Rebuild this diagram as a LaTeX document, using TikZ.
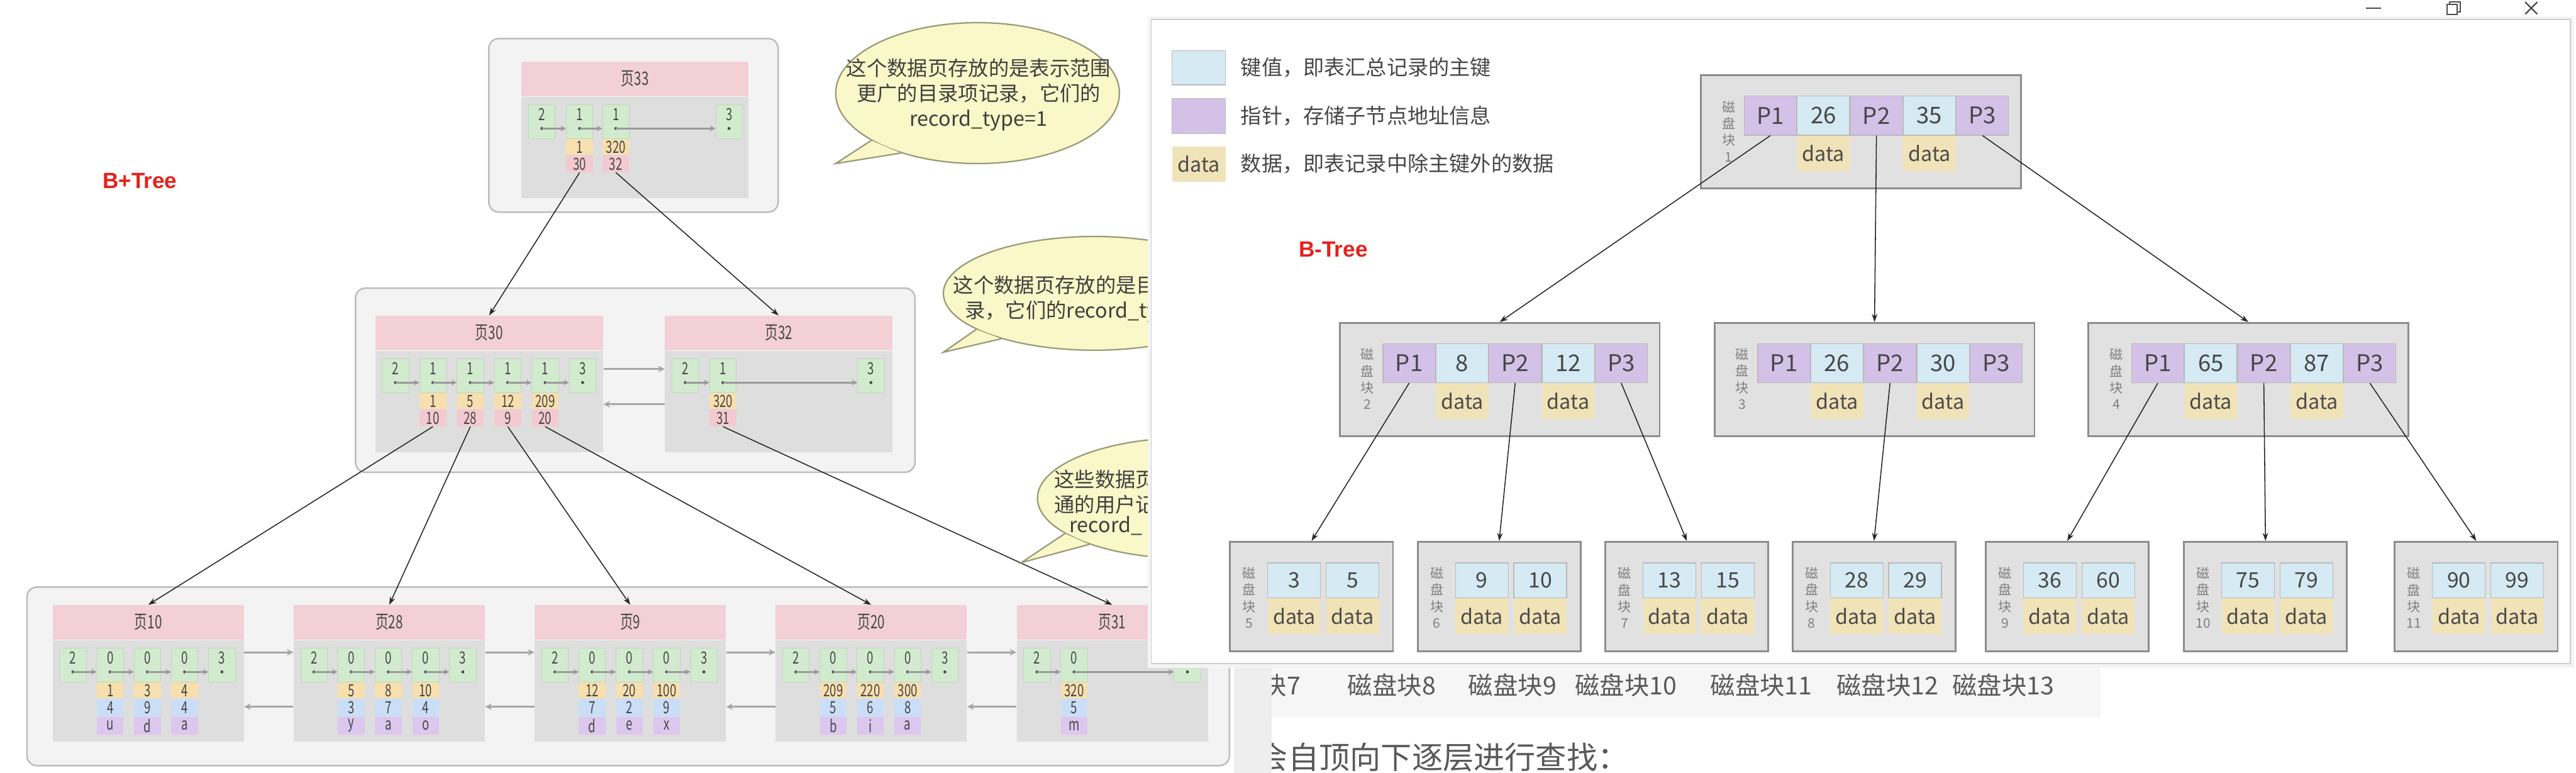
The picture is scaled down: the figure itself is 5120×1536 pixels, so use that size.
\documentclass[tikz,border=0pt]{standalone}
\usepackage{fontspec}
\setmainfont{Noto Sans CJK SC}
\newfontfamily\narrowfont{Noto Sans CJK SC}[FakeStretch=0.7]
\newfontfamily\labelfont{Liberation Sans}
\usetikzlibrary{shapes.geometric,arrows.meta,positioning,calc}
\usepackage{xcolor}
\definecolor{outerfill}{HTML}{F3F3F3}
\definecolor{outerline}{HTML}{BDBDBD}
\definecolor{headpink}{HTML}{F2D0D6}
\definecolor{bodygray}{HTML}{DEDEDE}
\definecolor{recgreen}{HTML}{D2EBCF}
\definecolor{recorange}{HTML}{F8DFAE}
\definecolor{recpink}{HTML}{F3CAD1}
\definecolor{recblue}{HTML}{CADFF7}
\definecolor{recpurple}{HTML}{DCC7EF}
\definecolor{blockgray}{HTML}{E1E1E1}
\definecolor{blockline}{HTML}{8C8C8C}
\definecolor{keyblue}{HTML}{D5EAF3}
\definecolor{ptrpurple}{HTML}{D4C1E7}
\definecolor{datayellow}{HTML}{F1E3B8}
\definecolor{bubblefill}{HTML}{FAF7C8}
\definecolor{bubbleline}{HTML}{9A9A7A}
\definecolor{titlered}{HTML}{E3221B}
\definecolor{inkgray}{HTML}{474747}
\definecolor{docgray}{HTML}{F6F6F6}
\definecolor{stripgray}{HTML}{EEEEEE}
\tikzset{
  >=Stealth,
  outer/.style={draw=outerline,fill=outerfill,rounded corners=2mm,line width=0.9pt,anchor=north west,inner sep=0pt},
  pghead/.style={fill=headpink,anchor=north west,inner sep=0pt,minimum height=6.8mm,font=\narrowfont\fontsize{10.5}{11}\selectfont,text=inkgray},
  pgbody/.style={fill=bodygray,anchor=north west,inner sep=0pt,minimum height=20.2mm},
  cellbase/.style={inner sep=0pt,minimum width=5.3mm,font=\narrowfont\fontsize{9.5}{9.5}\selectfont,text=inkgray},
  gcell/.style={cellbase,fill=recgreen,draw=recgreen!80!gray,line width=0.3pt,minimum height=6.8mm,anchor=north west},
  gtxt/.style={cellbase,minimum width=0pt,anchor=north},
  ocell/.style={cellbase,fill=recorange,minimum height=3.1mm},
  ncell/.style={cellbase,fill=recpink,minimum height=3.3mm},
  ccell/.style={cellbase,fill=recblue,minimum height=3.4mm},
  vcell/.style={cellbase,fill=recpurple,minimum height=3.5mm},
  chainline/.style={draw=gray!80,line width=0.9pt,-{Stealth[length=1.1mm,width=1.1mm]}},
  pagelink/.style={draw=gray!70,line width=1.1pt,-{Stealth[length=1.3mm,width=1.3mm]}},
  treeline/.style={draw=gray!30!black,line width=0.55pt,-{Stealth[length=1.6mm,width=1.1mm]}},
  bubble/.style={ellipse,draw=bubbleline,fill=bubblefill,line width=0.8pt,inner sep=0pt},
  bubbleedge/.style={draw=bubbleline,line width=0.8pt},
  bubtxt/.style={inner sep=0pt,font=\fontsize{11.5}{14.2}\selectfont,text=black!75},
  redtitle/.style={font=\labelfont\bfseries\fontsize{12.5}{12.5}\selectfont,text=titlered,inner sep=0pt},
  bblock/.style={fill=blockgray,draw=blockline,line width=1pt,anchor=north west,inner sep=0pt},
  ptrcell/.style={fill=ptrpurple,draw=blockline!60,line width=0.4pt,minimum width=10.4mm,minimum height=7.8mm,inner sep=0pt,font=\fontsize{13}{13}\selectfont,text=inkgray},
  keycell/.style={ptrcell,fill=keyblue},
  datacell/.style={fill=datayellow,minimum width=10.4mm,minimum height=7mm,inner sep=0pt,font=\fontsize{11.5}{12}\selectfont,text=black!70},
  leafkey/.style={keycell,minimum width=10.5mm,minimum height=6.9mm,font=\fontsize{12}{12}\selectfont},
  leafdata/.style={datacell,minimum width=10.5mm,minimum height=7.1mm},
  vlabel/.style={align=center,font=\fontsize{7.5}{9.4}\selectfont,text=gray,inner sep=0pt},
  legendtxt/.style={anchor=west,inner sep=0pt,font=\fontsize{11.8}{12}\selectfont,text=black!72},
  doctxt/.style={anchor=west,inner sep=0pt,font=\fontsize{14}{14}\selectfont,text=black!65},
  ctrl/.style={draw=black!70,line width=0.8pt}
}
% B+Tree page: name, x, y, width (mm), label
\newcommand{\bpage}[5]{%
  \node[pghead,minimum width=#4mm] (#1h) at (#2,#3) {#5};
  \node[pgbody,minimum width=#4mm] (#1bd) at (#1h.south west) {};
}
% green record header: page, index, x, y, value
\newcommand{\greencell}[5]{%
  \node[gcell] (#1g#2) at ({#3},{#4}) {};
  \node[gtxt] (#1t#2) at ([yshift=-0.8mm]#1g#2.north) {#5};
  \coordinate (#1d#2) at ($(#1g#2.north)!0.7!(#1g#2.south)$);
  \fill[inkgray] (#1d#2) circle (0.3mm);
}
\newcommand{\linkrec}[3]{\draw[chainline] (#1d#2) -- (#1g#3.west |- #1d#3);}
% directory record: page, index, min key, page no
\newcommand{\dirrec}[4]{%
  \node[ocell,below=0pt of #1g#2] (#1o#2) {#3};
  \node[ncell,below=0pt of #1o#2] (#1n#2) {#4};
}
% user record: page, index, key, c2, c3
\newcommand{\userrec}[5]{%
  \node[ocell,below=0pt of #1g#2] (#1o#2) {#3};
  \node[ccell,below=0pt of #1o#2] (#1c#2) {#4};
  \node[vcell,below=0pt of #1c#2] (#1v#2) {#5};
}
\newcommand{\pagelinks}[4]{%
  \draw[pagelink] ($(#1bd.north east)+(0,#3)$) -- ($(#2bd.north west)+(0,#3)$);
  \draw[pagelink] ($(#2bd.north west)+(0,#4)$) -- ($(#1bd.north east)+(0,#4)$);
}
% B-Tree inner block: name, x, y, block no, key1, key2
\newcommand{\diskblock}[6]{%
  \node[bblock,minimum width=63.6mm,minimum height=22.5mm] (#1) at (#2,#3) {};
  \node[vlabel] (#1l) at ($(#1.north west)+(57,113)$) {磁\\盘\\块\\#4};
  \node[ptrcell,anchor=north west] (#1p1) at ($(#1.north west)+(87,42)$) {P1};
  \node[keycell,right=0pt of #1p1] (#1k1) {#5};
  \node[ptrcell,right=0pt of #1k1] (#1p2) {P2};
  \node[keycell,right=0pt of #1p2] (#1k2) {#6};
  \node[ptrcell,right=0pt of #1k2] (#1p3) {P3};
  \node[datacell,below=0pt of #1k1] (#1d1) {data};
  \node[datacell,below=0pt of #1k2] (#1d2) {data};
}
% B-Tree leaf block: name, x, block no, key1, key2
\newcommand{\leafblock}[5]{%
  \node[bblock,minimum width=32.4mm,minimum height=21.8mm] (#1) at (#2,1075) {};
  \node[vlabel] (#1l) at ($(#1.north west)+(40,113)$) {磁\\盘\\块\\#3};
  \node[leafkey,anchor=north west] (#1k1) at ($(#1.north west)+(76,43)$) {#4};
  \node[leafkey,anchor=north west] (#1k2) at ($(#1.north west)+(192,43)$) {#5};
  \node[leafdata,below=0pt of #1k1] (#1d1) {data};
  \node[leafdata,below=0pt of #1k2] (#1d2) {data};
}
\begin{document}
\begin{tikzpicture}[x=0.1mm,y=-0.1mm]
\useasboundingbox (0,0) rectangle (5120,1536);
\fill[white] (0,0) rectangle (5120,1536);

% page of text behind the screenshots
\fill[docgray] (2528,1318) rectangle (4175,1425);
\node[doctxt] (dk7) at (2508,1362) {块7};
\node[doctxt] (dk8) at (2678,1362) {磁盘块8};
\node[doctxt] (dk9) at (2918,1362) {磁盘块9};
\node[doctxt] (dk10) at (3130,1362) {磁盘块10};
\node[doctxt] (dk11) at (3399,1362) {磁盘块11};
\node[doctxt] (dk12) at (3650,1362) {磁盘块12};
\node[doctxt] (dk13) at (3880,1362) {磁盘块13};
\node[doctxt,font=\fontsize{17.5}{17.5}\selectfont] (dsearch) at (2498,1505) {会自顶向下逐层进行查找：};
\fill[stripgray] (2452,1318) rectangle (2528,1536);

% B+Tree
\node[redtitle] (bplus) at (278,359) {B+Tree};
\node[outer,minimum width=57.5mm,minimum height=34.5mm] (box33) at (970,75) {};
\node[outer,minimum width=111.2mm,minimum height=36.6mm] (box30) at (705,571) {};
\node[outer,minimum width=239mm,minimum height=35.5mm] (box10) at (52,1165) {};

% root page
\bpage{p33}{1036}{122}{45.1}{页33}
\greencell{p33}{1}{1050}{207}{2}
\greencell{p33}{2}{1125}{207}{1}
\greencell{p33}{3}{1197}{207}{1}
\greencell{p33}{4}{1422}{207}{3}
\dirrec{p33}{2}{1}{30}
\dirrec{p33}{3}{320}{32}
\linkrec{p33}{1}{2}
\linkrec{p33}{2}{3}
\linkrec{p33}{3}{4}

% directory pages
\bpage{p30}{745}{627}{45.3}{页30}
\foreach \v [count=\i] in {2,1,1,1,1,3} {\greencell{p30}{\i}{759+74.4*(\i-1)}{712}{\v}}
\foreach \i/\o/\n in {2/1/10,3/5/28,4/12/9,5/209/20} {\dirrec{p30}{\i}{\o}{\n}}
\foreach \i [evaluate=\i as \j using int(\i+1)] in {1,...,5} {\linkrec{p30}{\i}{\j}}
\bpage{p32}{1321}{627}{45.2}{页32}
\greencell{p32}{1}{1335}{712}{2}
\greencell{p32}{2}{1410}{712}{1}
\greencell{p32}{3}{1704}{712}{3}
\dirrec{p32}{2}{320}{31}
\linkrec{p32}{1}{2}
\linkrec{p32}{2}{3}
\pagelinks{p30}{p32}{37}{107}

% leaf pages
\foreach \pg/\px/\lab in {p10/104/页10,p28/583/页28,p9/1062/页9,p20/1541/页20} {
  \bpage{\pg}{\px}{1202}{38.0}{\lab}
  \foreach \v [count=\i] in {2,0,0,0,3} {\greencell{\pg}{\i}{\px+14+74*(\i-1)}{1287}{\v}}
  \foreach \i [evaluate=\i as \j using int(\i+1)] in {1,...,4} {\linkrec{\pg}{\i}{\j}}
}
\foreach \i/\a/\b/\c in {2/1/4/u,3/3/9/d,4/4/4/a} {\userrec{p10}{\i}{\a}{\b}{\c}}
\foreach \i/\a/\b/\c in {2/5/3/y,3/8/7/a,4/10/4/o} {\userrec{p28}{\i}{\a}{\b}{\c}}
\foreach \i/\a/\b/\c in {2/12/7/d,3/20/2/e,4/100/9/x} {\userrec{p9}{\i}{\a}{\b}{\c}}
\foreach \i/\a/\b/\c in {2/209/5/b,3/220/6/i,4/300/8/a} {\userrec{p20}{\i}{\a}{\b}{\c}}
\bpage{p31}{2020}{1202}{38.0}{页31}
\greencell{p31}{1}{2034}{1287}{2}
\greencell{p31}{2}{2108}{1287}{0}
\greencell{p31}{5}{2333}{1287}{}
\userrec{p31}{2}{320}{5}{m}
\linkrec{p31}{1}{2}
\linkrec{p31}{2}{5}
\pagelinks{p10}{p28}{25}{133}
\pagelinks{p28}{p9}{25}{133}
\pagelinks{p9}{p20}{25}{133}
\pagelinks{p20}{p31}{25}{133}

\draw[treeline] (p33n2.south) -- (p30h.north);
\draw[treeline] (p33n3.south) -- (p32h.north);
\draw[treeline] (p30n2.south) -- (p10h.north);
\draw[treeline] (p30n3.south) -- (p28h.north);
\draw[treeline] (p30n4.south) -- (p9h.north);
\draw[treeline] (p30n5.south) -- (p20h.north);
\draw[treeline] (p32n2.south) -- (p31h.north);

% call-outs
\node[bubble,minimum width=56.4mm,minimum height=28mm] (bub1) at (1943,185) {};
\coordinate (tip1) at (1661,325);
\fill[bubblefill] (bub1.204) -- (tip1) -- (bub1.218) -- cycle;
\draw[bubbleedge] (bub1.204) -- (tip1) -- (bub1.218);
\node[bubtxt,align=center] (bub1t) at (1945,188) {这个数据页存放的是表示范围\\更广的目录项记录，它们的\\record\_type=1};

\node[bubble,minimum width=60mm,minimum height=22.6mm] (bub2) at (2175,583) {};
\coordinate (tip2) at (1875,700);
\fill[bubblefill] (bub2.197) -- (tip2) -- (bub2.206) -- cycle;
\draw[bubbleedge] (bub2.197) -- (tip2) -- (bub2.206);
\node[bubtxt,anchor=west] (bub2a) at (1894,566) {这个数据页存放的是目};
\node[bubtxt,anchor=west] (bub2b) at (1917,620) {录，它们的record\_ty};

\node[bubble,minimum width=60mm,minimum height=24mm] (bub3) at (2362,990) {};
\coordinate (tip3) at (2030,1118);
\fill[bubblefill] (bub3.196) -- (tip3) -- (bub3.205) -- cycle;
\draw[bubbleedge] (bub3.196) -- (tip3) -- (bub3.205);
\node[bubtxt,anchor=west] (bub3a) at (2095,953) {这些数据页};
\node[bubtxt,anchor=west] (bub3b) at (2095,1003) {通的用户记};
\node[bubtxt,anchor=west] (bub3c) at (2125,1045) {record\_};

% B-Tree window
\fill[gray!9] (2281,32) rectangle (5116,1328);
\node[draw=gray!40,fill=white,line width=0.6pt,anchor=north west,minimum width=282.1mm,minimum height=128mm,inner sep=0pt] (win) at (2287,38) {};
\draw[ctrl] (4703,16) -- (4733,16);
\draw[ctrl] (4864,9) rectangle (4884,29);
\draw[ctrl] (4869,9) -- (4869,4) -- (4890,4) -- (4890,24) -- (4884,24);
\draw[ctrl] (5019,4) -- (5043,28);
\draw[ctrl] (5019,28) -- (5043,4);

% legend
\node[keycell,minimum width=10.6mm,minimum height=6.8mm,anchor=north west] (lgkey) at (2329,100) {};
\node[ptrcell,minimum width=10.6mm,minimum height=7mm,anchor=north west] (lgptr) at (2329,195) {};
\node[datacell,minimum width=10.6mm,minimum height=7mm,anchor=north west] (lgdata) at (2329,290) {data};
\node[legendtxt,right=2.9mm of lgkey] (lgkeyt) {键值，即表汇总记录的主键};
\node[legendtxt,right=2.9mm of lgptr] (lgptrt) {指针，存储子节点地址信息};
\node[legendtxt,right=2.9mm of lgdata] (lgdatat) {数据，即表记录中除主键外的数据};
\node[redtitle] (btree) at (2650,496) {B-Tree};

% disk blocks
\diskblock{b1}{3379}{148}{1}{26}{35}
\diskblock{b2}{2661}{640}{2}{8}{12}
\diskblock{b3}{3406}{640}{3}{26}{30}
\diskblock{b4}{4149}{640}{4}{65}{87}
\leafblock{b5}{2443}{5}{3}{5}
\leafblock{b6}{2816}{6}{9}{10}
\leafblock{b7}{3189}{7}{13}{15}
\leafblock{b8}{3561}{8}{28}{29}
\leafblock{b9}{3945}{9}{36}{60}
\leafblock{b10}{4339}{10}{75}{79}
\leafblock{b11}{4758}{11}{90}{99}

\draw[treeline] (b1p1.south) -- (b2.north);
\draw[treeline] (b1p2.south) -- (b3.north);
\draw[treeline] (b1p3.south) -- (b4.north);
\draw[treeline] (b2p1.south) -- (b5.north);
\draw[treeline] (b2p2.south) -- (b6.north);
\draw[treeline] (b2p3.south) -- (b7.north);
\draw[treeline] (b3p2.south) -- (b8.north);
\draw[treeline] (b4p1.south) -- (b9.north);
\draw[treeline] (b4p2.south) -- (b10.north);
\draw[treeline] (b4p3.south) -- (b11.north);
\end{tikzpicture}
\end{document}
